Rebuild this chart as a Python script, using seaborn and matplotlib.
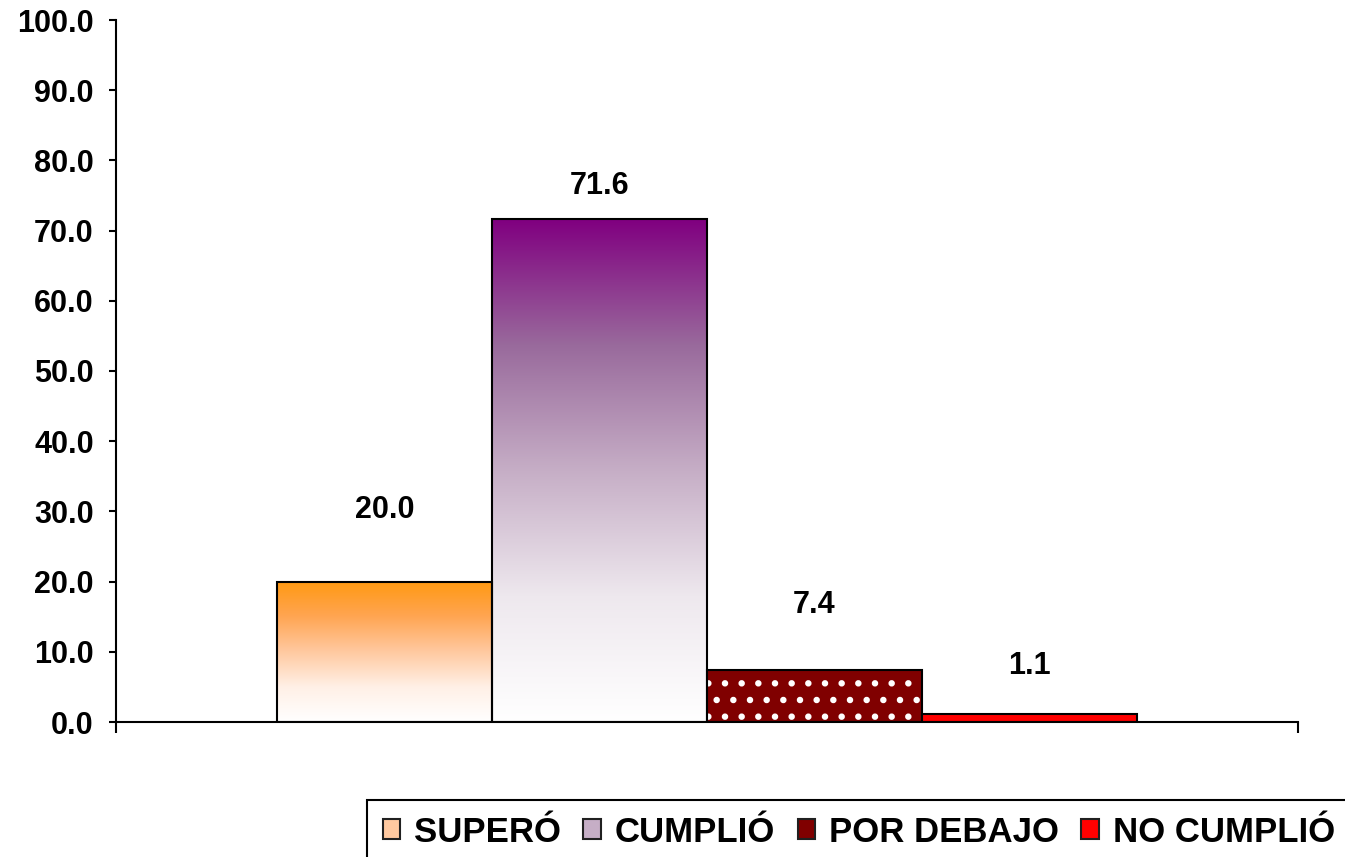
import numpy as np
import pandas as pd
import matplotlib
matplotlib.use('Agg')
import matplotlib.pyplot as plt
import seaborn as sns
from matplotlib.colors import LinearSegmentedColormap
from matplotlib.patches import Patch

categorias = ['SUPERÓ', 'CUMPLIÓ', 'POR DEBAJO', 'NO CUMPLIÓ']
valores = [20.0, 71.6, 7.4, 1.1]
colores = ['#FF9912', '#800080', '#800000', '#FF0000']
# altura extra de cada etiqueta sobre su barra (unidades del eje y)
etiqueta_sobre = [10.2, 4.8, 9.3, 6.9]

# degradados (de abajo hacia arriba) para las dos primeras barras
grad_naranja = ['#FFFFFF', '#FFF0E6', '#FFC9A0', '#FFA552', '#FF9912']
grad_morado = ['#FFFFFF', '#EEE8EE', '#C6AEC6', '#996A9C', '#800080']

df = pd.DataFrame({'grupo': [''] * len(categorias), 'estado': categorias, 'valor': valores})

sns.set_theme(style='white', rc={'text.color': 'black', 'xtick.color': 'black',
                                 'ytick.color': 'black', 'axes.labelcolor': 'black'})
plt.rcParams['font.family'] = ['Liberation Sans', 'DejaVu Sans']
plt.rcParams['font.weight'] = 'bold'
plt.rcParams['hatch.linewidth'] = 2.2

fig = plt.figure(figsize=(13.45, 8.57), dpi=100)
ax = fig.add_axes([116 / 1345, 1 - 722 / 857, (1298 - 116) / 1345, (722 - 20) / 857])

sns.barplot(data=df, x='grupo', y='valor', hue='estado', hue_order=categorias,
            palette=colores, width=0.7276, saturation=1, edgecolor='black',
            linewidth=1.5, legend=False, ax=ax)

bars = ax.patches[:len(categorias)]


def degradado(ax, bar, lista):
    x0, y0 = bar.get_xy()
    w, h = bar.get_width(), bar.get_height()
    cmap = LinearSegmentedColormap.from_list('g', lista)
    grad = np.linspace(0, 1, 256).reshape(-1, 1)
    im = ax.imshow(grad, cmap=cmap, origin='lower', aspect='auto',
                   extent=[x0, x0 + w, y0, y0 + h], zorder=bar.get_zorder() - 0.1)
    im.set_clip_path(bar)
    bar.set_facecolor('none')


degradado(ax, bars[0], grad_naranja)
degradado(ax, bars[1], grad_morado)
bars[2].set_hatch('.')
bars[2]._hatch_color = (1, 1, 1, 1)

for bar, v, d in zip(bars, valores, etiqueta_sobre):
    ax.text(bar.get_x() + bar.get_width() / 2, v + d, f'{v:.1f}',
            ha='center', va='center', fontsize=22, fontweight='bold', color='black')

ax.set_xlim(-0.5, 0.5)
ax.set_ylim(0, 100)
ax.set_yticks(np.arange(0, 101, 10))
ax.set_yticklabels([f'{t:.1f}' for t in np.arange(0, 101, 10)], fontsize=22, fontweight='bold')
ax.set_xticks([-0.5, 0.5])
ax.set_xticklabels(['', ''])
ax.set_xlabel('')
ax.set_ylabel('')
ax.tick_params(axis='y', direction='out', length=5, width=1.5, color='black',
               labelcolor='black', pad=11, left=True)
ax.tick_params(axis='x', direction='out', length=8, width=1.5, color='black', bottom=True)
sns.despine(ax=ax, top=True, right=True)
for s in ['left', 'bottom']:
    ax.spines[s].set_color('black')
    ax.spines[s].set_linewidth(1.5)

handles = [Patch(facecolor='#FFC9A0', edgecolor='#202020', linewidth=1.5),
           Patch(facecolor='#C6AEC6', edgecolor='#202020', linewidth=1.5),
           Patch(facecolor=colores[2], edgecolor='#202020', linewidth=1.5),
           Patch(facecolor=colores[3], edgecolor='#202020', linewidth=1.5)]
leg = fig.legend(handles, categorias, loc='upper left', bbox_to_anchor=(367 / 1345, 1 - 800 / 857),
                 ncol=4, frameon=True, fancybox=False, edgecolor='black', framealpha=1,
                 prop={'size': 25, 'weight': 'bold'}, handlelength=0.5, handleheight=0.5,
                 handletextpad=0.4, columnspacing=0.65, borderpad=0.45, borderaxespad=0)
leg.get_frame().set_linewidth(1.5)

fig.savefig('out.png', dpi=100)
